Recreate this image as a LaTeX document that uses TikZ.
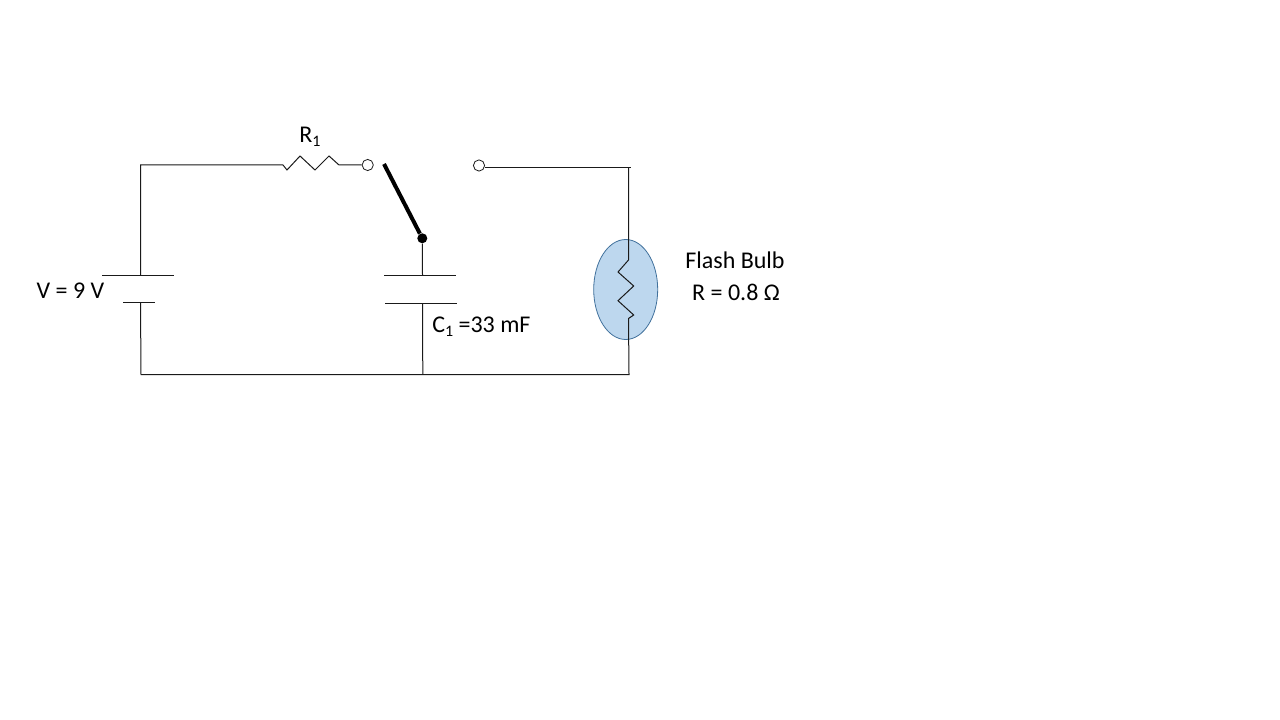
\documentclass[tikz,border=0pt]{standalone}
\usepackage{fontspec}
\setmainfont{Carlito}
\definecolor{wirecol}{HTML}{1A1A1A}
\definecolor{bulbfill}{HTML}{BDD7EE}
\definecolor{bulbedge}{HTML}{41719C}
\newcommand{\lowone}{\raisebox{-3.2pt}{\fontsize{12}{14}\selectfont 1}}
\tikzset{
  wire/.style={draw=wirecol,line width=0.75pt,line join=miter},
  terminal/.style={circle,draw=wirecol,fill=white,line width=0.6pt,minimum size=8.4pt,inner sep=0pt},
  pivot/.style={circle,fill=black,minimum size=7.5pt,inner sep=0pt},
  blade/.style={draw=black,line width=3pt},
  bulbshape/.style={ellipse,draw=bulbedge,fill=bulbfill,line width=0.6pt,minimum width=48pt,minimum height=75pt,inner sep=0pt},
  lbl/.style={font=\fontsize{18}{22}\selectfont,text=black,inner sep=0pt}
}
\usetikzlibrary{shapes.geometric}
\begin{document}
\begin{tikzpicture}[x=0.75pt,y=-0.75pt]
\useasboundingbox (0,0) rectangle (1280,720);
\fill[white] (0,0) rectangle (1280,720);
% corners and junction points
\coordinate (tl) at (140.5,165);
\coordinate (bl) at (141,374.5);
\coordinate (tm) at (600,167.5);
\coordinate (tr) at (631,167.5);
\coordinate (tv) at (628.5,167.5);
\coordinate (br) at (629,374.5);
\coordinate (bc) at (422.8,374.5);
% battery plates
\coordinate (batAl) at (102,275.3);
\coordinate (batAr) at (174,275.3);
\coordinate (batA) at (140.5,275.3);
\coordinate (batBl) at (123,302.3);
\coordinate (batBr) at (155,302.3);
\coordinate (batB) at (140.5,302.3);
% capacitor plates
\coordinate (capAl) at (384,275.3);
\coordinate (capAr) at (456,275.3);
\coordinate (capA) at (422.5,275.3);
\coordinate (capBl) at (385,303.3);
\coordinate (capBr) at (457,303.3);
\coordinate (capB) at (422.5,303.3);
\coordinate (bladeend) at (384,164);
% bulb
\node[bulbshape] (bulb) at (625.7,289.5) {};
% terminals and pivot
\node[terminal] (t1) at (367.7,165) {};
\node[terminal] (t2) at (479,165.5) {};
\node[pivot] (piv) at (422.3,238.3) {};
% wires
\draw[wire] (batA) -- (tl) -- (283,165) -- (287,170) -- (300,156) -- (315,170) -- (329,156) -- (339,165) -- (t1);
\draw[wire] (t2.east |- tm) -- (tm) -- (tr);
\draw[wire] (tv) -- (628.5,260) -- (618,272) -- (633.7,286) -- (618,300.7) -- (633.7,315) -- (628.5,318.5) -- (br) -- (bl) -- (batB);
\draw[wire] (batAl) -- (batAr);
\draw[wire] (batBl) -- (batBr);
\draw[wire] (capAl) -- (capAr);
\draw[wire] (capBl) -- (capBr);
\draw[wire] (piv) -- (capA);
\draw[wire] (capB) -- (bc);
\draw[blade] (bladeend) -- (piv);
% labels
\node[lbl] (lr) at (310,137) {R\lowone};
\node[lbl] (lv) at (70.5,291) {V = 9 V};
\node[lbl,anchor=west] (lc) at (432,326.5) {C\lowone{} =33 mF};
\node[lbl] (lf) at (735,260.5) {Flash Bulb};
\node[lbl] (lo) at (736,292.5) {R = 0.8 Ω};
\end{tikzpicture}
\end{document}
